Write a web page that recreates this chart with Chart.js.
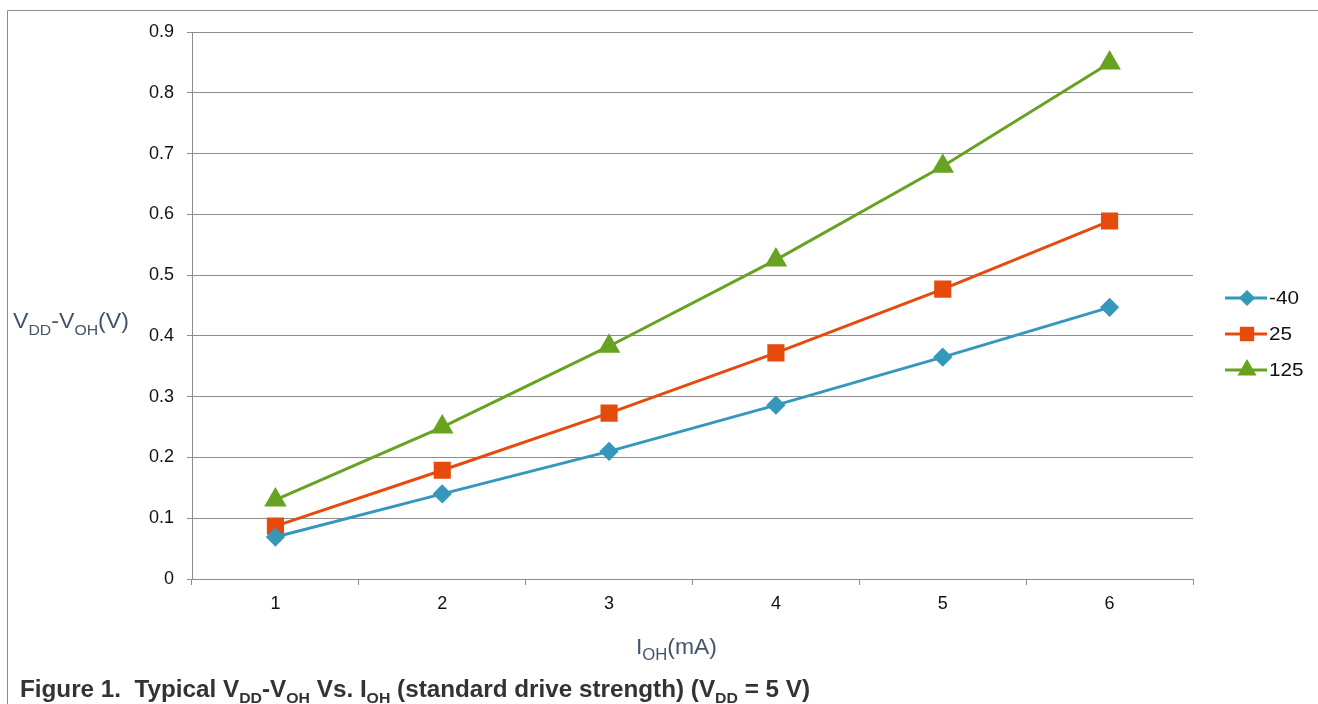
<!DOCTYPE html>
<html>
<head>
<meta charset="utf-8">
<script src="https://cdn.jsdelivr.net/npm/chart.js@4"></script>
<style>
  html, body { margin: 0; padding: 0; background: #fff; }
  #wrap { width: 1318px; height: 704px; }
</style>
</head>
<body>
<div id="wrap"><canvas id="myChart" width="1318" height="704"></canvas></div>
<script>
// Dados
const categorias = ['1', '2', '3', '4', '5', '6'];
const nomesSeries = ['-40', '25', '125'];
const serieMenos40 = [0.069, 0.140, 0.210, 0.286, 0.365, 0.447];
const serie25 = [0.087, 0.179, 0.273, 0.372, 0.477, 0.589];
const serie125 = [0.130, 0.250, 0.383, 0.525, 0.679, 0.849];
const eixoYMin = 0;
const eixoYMax = 0.9;
const eixoYPasso = 0.1;

// Textos com índices (partes: [texto, é índice?])
const tituloY = [['V', 0], ['DD', 1], ['-V', 0], ['OH', 1], ['(V)', 0]];
const tituloX = [['I', 0], ['OH', 1], ['(mA)', 0]];
const legenda = [['Figure 1.  Typical V', 0], ['DD', 1], ['-V', 0], ['OH', 1], [' Vs. I', 0], ['OH', 1],
  [' (standard drive strength) (V', 0], ['DD', 1], [' = 5 V)', 0]];

const FONTE = '"Liberation Sans", Arial, sans-serif';

// Desenha texto com índices, esticado até a largura pedida
function desenhaRico(ctx, partes, x, y, tam, tamSub, desloc, peso, cor, larguraAlvo) {
    let w = 0;
    partes.forEach(p => {
        ctx.font = peso + ' ' + (p[1] ? tamSub : tam) + 'px ' + FONTE;
        w += ctx.measureText(p[0]).width;
    });
    let sx = larguraAlvo ? larguraAlvo / w : 1;
    ctx.save();
    ctx.translate(x, y);
    ctx.scale(sx, 1);
    ctx.fillStyle = cor;
    ctx.textAlign = 'left';
    ctx.textBaseline = 'alphabetic';
    let px = 0;
    partes.forEach(p => {
        ctx.font = peso + ' ' + (p[1] ? tamSub : tam) + 'px ' + FONTE;
        ctx.fillText(p[0], px, p[1] ? desloc : 0);
        px += ctx.measureText(p[0]).width;
    });
    ctx.restore();
}

// Moldura, títulos, legenda e rodapé
const pluginExtras = {
    id: 'extras',
    beforeDraw(chart) {
        let ctx = chart.ctx;
        ctx.save();
        ctx.strokeStyle = '#8c8c8c';
        ctx.lineWidth = 1;
        ctx.beginPath();
        ctx.moveTo(7.5, 704);
        ctx.lineTo(7.5, 10.5);
        ctx.lineTo(1318, 10.5);
        ctx.stroke();
        ctx.restore();
    },
    afterDraw(chart) {
        let ctx = chart.ctx;
        let area = chart.chartArea;
        ctx.save();
        desenhaRico(ctx, tituloY, 13, 328, 22, 15, 7, 'normal', '#44546a', 116);
        desenhaRico(ctx, tituloX, 636, 654, 22, 16, 6, 'normal', '#44546a', 81);
        desenhaRico(ctx, legenda, 20, 697, 23, 15, 6, 'bold', '#333333', 790);

        // Legenda das séries: linha com marcador
        chart.data.datasets.forEach((ds, i) => {
            let y = 298 + i * 36;
            let x0 = area.right + 32;
            ctx.strokeStyle = ds.borderColor;
            ctx.lineWidth = 3;
            ctx.beginPath();
            ctx.moveTo(x0, y);
            ctx.lineTo(x0 + 42, y);
            ctx.stroke();
            ctx.fillStyle = ds.backgroundColor;
            ctx.strokeStyle = ds.borderColor;
            Chart.helpers.drawPoint(ctx, {
                pointStyle: ds.pointStyle,
                rotation: 0,
                radius: ds.pointRadius * 0.8,
                borderWidth: 1
            }, x0 + 22, y);
            ctx.save();
            ctx.translate(x0 + 44, y + 1);
            ctx.scale(1.15, 1);
            ctx.fillStyle = '#111';
            ctx.font = '18px ' + FONTE;
            ctx.textAlign = 'left';
            ctx.textBaseline = 'middle';
            ctx.fillText(ds.label, 0, 0);
            ctx.restore();
        });
        ctx.restore();
    }
};

window.addEventListener('load', function () {
    let ctx = document.getElementById('myChart');

    new Chart(ctx, {
        type: 'line',
        data: {
            labels: categorias,
            datasets: [{
                label: nomesSeries[0],
                data: serieMenos40,
                borderColor: '#3597bb',
                backgroundColor: '#3597bb',
                borderWidth: 3,
                pointStyle: 'rectRot',
                pointRadius: 7.5,
                pointHoverRadius: 7.5
            },
            {
                label: nomesSeries[1],
                data: serie25,
                borderColor: '#e64b0e',
                backgroundColor: '#e64b0e',
                borderWidth: 3,
                pointStyle: 'rect',
                pointRadius: 10,
                pointHoverRadius: 10
            },
            {
                label: nomesSeries[2],
                data: serie125,
                borderColor: '#67a221',
                backgroundColor: '#67a221',
                borderWidth: 3,
                pointStyle: 'triangle',
                pointRadius: 10,
                pointHoverRadius: 10
            }]
        },
        options: {
            responsive: false,
            animation: false,
            events: [],
            layout: {
                padding: { left: 0, top: 32, right: 125, bottom: 83 }
            },
            plugins: {
                legend: { display: false },
                tooltip: { enabled: false }
            },
            scales: {
                x: {
                    type: 'category',
                    offset: true,
                    afterFit: s => { s.height = 42; },
                    grid: {
                        offset: true,
                        drawOnChartArea: false,
                        drawTicks: true,
                        tickLength: 6,
                        color: '#8c8c8c'
                    },
                    border: { display: true, color: '#8c8c8c', width: 1 },
                    ticks: {
                        padding: 8,
                        color: '#111111',
                        font: { family: FONTE, size: 18 }
                    }
                },
                y: {
                    min: eixoYMin,
                    max: eixoYMax,
                    afterFit: s => { s.width = 192; },
                    grid: {
                        color: '#8c8c8c',
                        drawTicks: true,
                        tickLength: 5
                    },
                    border: { display: true, color: '#8c8c8c', width: 1 },
                    ticks: {
                        stepSize: eixoYPasso,
                        padding: 13,
                        color: '#111111',
                        font: { family: FONTE, size: 18 },
                        callback: v => (Math.abs(v) < 1e-9 ? '0' : v.toFixed(1))
                    }
                }
            }
        },
        plugins: [pluginExtras]
    });
}, false);
</script>
</body>
</html>
